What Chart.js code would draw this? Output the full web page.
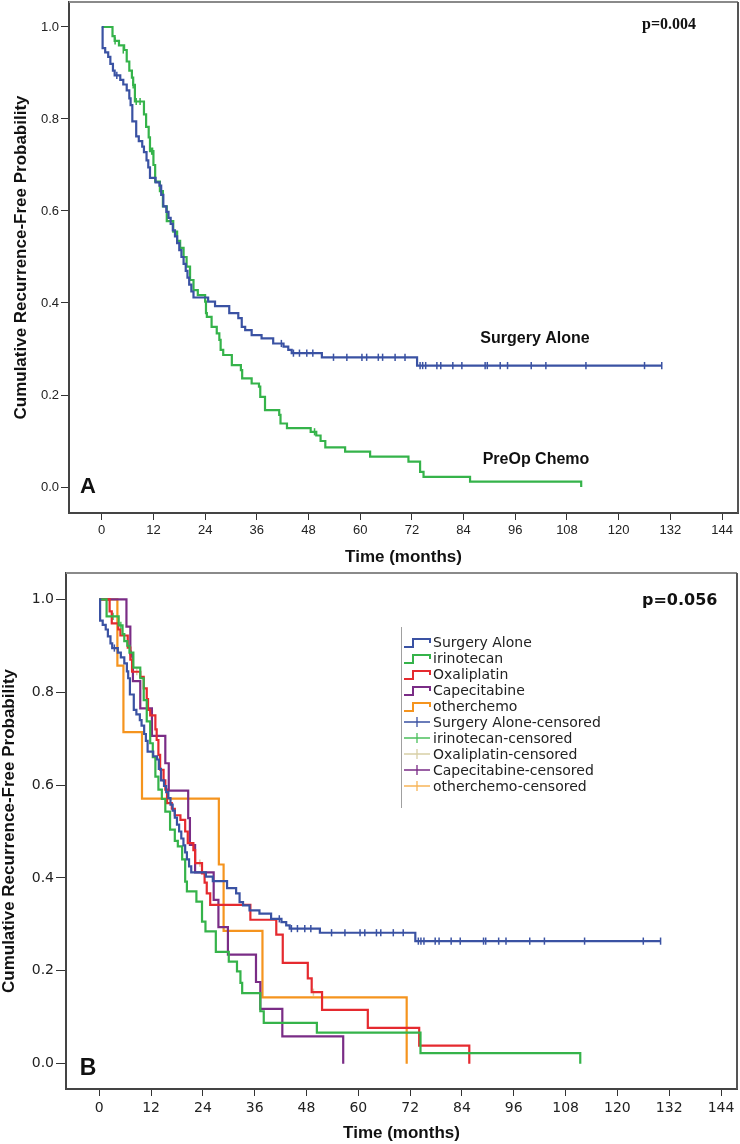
<!DOCTYPE html>
<html><head><meta charset="utf-8">
<script src="https://cdn.jsdelivr.net/npm/chart.js@4.4.1/dist/chart.umd.min.js"></script>
<style>
html,body{margin:0;padding:0;background:#fff;}
#wrap{position:relative;width:740px;height:1144px;overflow:hidden;}
.pane{position:absolute;left:0;width:740px;}
#pa{top:0;height:566px;}
#pb{top:566px;height:578px;}
</style></head><body>
<div id="wrap">
<div class="pane" id="pa"><canvas id="ca"></canvas></div>
<div class="pane" id="pb"><canvas id="cb"></canvas></div>
</div>
<script>
// ---------- tick labels ----------
const xTickValues = [0, 12, 24, 36, 48, 60, 72, 84, 96, 108, 120, 132, 144];
const yTickValues = [0.0, 0.2, 0.4, 0.6, 0.8, 1.0];

// ---------- Surgery Alone (panels A and B) ----------
const surgeryTimes = [0, 0.2, 0.8, 1.5, 2.0, 2.6, 3.0, 4.3, 5.0, 5.8, 6.4, 6.7, 7.1, 8.0, 8.6, 9.4, 9.8, 10.4, 10.8, 11.2, 12.5, 13.4, 13.8, 14.3, 15.0, 15.5, 16.0, 16.5, 17.0, 17.5, 18.0, 18.5, 19.0, 19.5, 19.9, 20.3, 20.8, 21.3, 24.7, 26.3, 29.6, 31.7, 32.5, 33.3, 34.8, 37.1, 39.8, 42.2, 43.3, 44.1, 51.1, 73.2, 130.0];
const surgerySurv  = [1.0, 0.954, 0.945, 0.935, 0.92, 0.905, 0.895, 0.885, 0.875, 0.862, 0.845, 0.83, 0.795, 0.762, 0.752, 0.74, 0.728, 0.71, 0.695, 0.672, 0.662, 0.655, 0.635, 0.61, 0.598, 0.585, 0.572, 0.558, 0.545, 0.53, 0.515, 0.50, 0.485, 0.47, 0.455, 0.44, 0.425, 0.412, 0.403, 0.393, 0.378, 0.367, 0.348, 0.341, 0.330, 0.323, 0.312, 0.305, 0.298, 0.291, 0.282, 0.264, 0.264];
const surgeryCensTimes = [3.5, 41.7, 44.5, 45.9, 47.6, 49.0, 53.8, 56.9, 60.4, 61.5, 64.2, 65.2, 68.1, 70.4, 73.9, 74.5, 75.2, 77.8, 78.7, 81.5, 83.6, 89.0, 89.5, 92.5, 94.2, 99.7, 103.1, 112.4, 126.0, 130.0];
const surgeryCensSurv  = [0.895, 0.312, 0.291, 0.291, 0.291, 0.291, 0.282, 0.282, 0.282, 0.282, 0.282, 0.282, 0.282, 0.282, 0.264, 0.264, 0.264, 0.264, 0.264, 0.264, 0.264, 0.264, 0.264, 0.264, 0.264, 0.264, 0.264, 0.264, 0.264, 0.264];

// ---------- PreOp Chemo (panel A) ----------
const preopTimes = [0, 2.5, 3.0, 4.0, 5.2, 5.8, 6.4, 7.0, 7.3, 7.7, 9.8, 10.3, 10.9, 11.2, 12.0, 12.4, 13.5, 14.2, 15.1, 16.6, 17.5, 18.2, 19.0, 19.7, 20.5, 21.3, 22.3, 24.0, 24.2, 24.4, 25.5, 26.7, 27.3, 27.6, 28.2, 30.2, 32.3, 32.6, 34.8, 36.5, 36.8, 37.9, 41.2, 41.5, 43.0, 48.5, 49.8, 50.8, 51.9, 56.5, 62.3, 71.2, 73.9, 74.7, 85.5, 111.3];
const preopSurv  = [1.0, 0.98, 0.97, 0.96, 0.95, 0.925, 0.905, 0.89, 0.874, 0.838, 0.81, 0.783, 0.76, 0.73, 0.70, 0.664, 0.643, 0.61, 0.578, 0.555, 0.535, 0.52, 0.50, 0.479, 0.45, 0.428, 0.417, 0.403, 0.378, 0.37, 0.348, 0.334, 0.32, 0.298, 0.287, 0.265, 0.254, 0.236, 0.225, 0.218, 0.196, 0.167, 0.157, 0.138, 0.128, 0.12, 0.112, 0.10, 0.086, 0.077, 0.066, 0.055, 0.033, 0.022, 0.0115, 0.0];
const preopCensTimes = [3.1, 5.0, 7.3, 8.0, 8.9, 11.6, 11.8, 49.4];
const preopCensSurv  = [0.97, 0.95, 0.874, 0.838, 0.838, 0.73, 0.73, 0.12];

// ---------- Panel B chemo groups ----------
const irinoTimes = [0, 1.7, 4.5, 5.4, 5.8, 6.5, 7.0, 7.9, 9.5, 10.3, 11.0, 11.8, 12.4, 13.0, 13.7, 14.5, 15.3, 16.4, 17.5, 18.2, 19.2, 19.9, 20.3, 22.5, 23.8, 24.6, 27.0, 30.0, 31.9, 32.7, 33.1, 37.3, 38.1, 50.4, 74.4, 111.4];
const irinoSurv  = [1.0, 0.963, 0.944, 0.925, 0.91, 0.90, 0.885, 0.853, 0.83, 0.783, 0.737, 0.69, 0.66, 0.618, 0.59, 0.57, 0.543, 0.504, 0.48, 0.468, 0.44, 0.392, 0.371, 0.349, 0.306, 0.285, 0.241, 0.22, 0.199, 0.174, 0.152, 0.113, 0.088, 0.067, 0.023, 0.0];
const irinoCensTimes = [3.2, 5.0];
const irinoCensSurv  = [0.963, 0.944];

const oxaliTimes = [0, 2.4, 2.9, 4.4, 4.9, 6.6, 7.2, 7.6, 9.5, 10.3, 11.0, 11.3, 11.8, 13.0, 13.3, 13.7, 14.1, 14.9, 15.3, 15.7, 16.8, 17.5, 18.8, 19.9, 20.5, 21.8, 22.2, 23.8, 24.4, 24.9, 25.7, 35.0, 41.0, 42.5, 48.3, 49.2, 51.6, 62.2, 74.1, 85.7];
const oxaliSurv  = [1.0, 0.974, 0.948, 0.935, 0.922, 0.896, 0.87, 0.844, 0.833, 0.808, 0.785, 0.762, 0.75, 0.72, 0.697, 0.665, 0.633, 0.61, 0.59, 0.561, 0.549, 0.535, 0.525, 0.50, 0.475, 0.46, 0.432, 0.41, 0.39, 0.367, 0.342, 0.31, 0.278, 0.217, 0.184, 0.154, 0.116, 0.077, 0.039, 0.0];
const oxaliCensTimes = [8.7, 23.3, 49.6];
const oxaliCensSurv  = [0.844, 0.432, 0.154];

const capeTimes = [0, 6.3, 7.2, 7.8, 9.5, 12.2, 15.3, 16.1, 20.6, 21.0, 22.2, 26.5, 27.6, 29.8, 36.3, 37.3, 42.4, 56.5];
const capeSurv  = [1.0, 0.941, 0.882, 0.824, 0.765, 0.706, 0.647, 0.588, 0.529, 0.471, 0.412, 0.353, 0.294, 0.235, 0.176, 0.118, 0.059, 0.0];
const capeCensTimes = [7.4];
const capeCensSurv  = [0.882];

const otherTimes = [0, 4.2, 5.6, 9.9, 27.7, 28.8, 37.8, 71.2];
const otherSurv  = [1.0, 0.857, 0.714, 0.571, 0.429, 0.286, 0.143, 0.0];

// ---------- labels ----------
const panelAGroups = ['Surgery Alone', 'PreOp Chemo'];
const legendLabels = ['Surgery Alone', 'irinotecan', 'Oxaliplatin', 'Capecitabine', 'otherchemo',
  'Surgery Alone-censored', 'irinotecan-censored', 'Oxaliplatin-censored', 'Capecitabine-censored', 'otherchemo-censored'];

// ---------- styling ----------
const C = { blue:'#3a52a3', green:'#35b34a', red:'#e52a2f', purple:'#7a2c86', orange:'#f5941e', tan:'#d8cfa6', greenLt:'#4cc05e', orangeLt:'#f7b559' };
const legendColors = [C.blue, C.green, C.red, C.purple, C.orange, C.blue, C.greenLt, C.tan, C.purple, C.orangeLt];

const pts = (ts, ss) => ts.map((t, i) => ({ x: t, y: ss[i] }));
const stepSet = (label, ts, ss, color) => ({
  label, data: pts(ts, ss), showLine: true, stepped: 'before', borderColor: color,
  backgroundColor: color, borderWidth: 2.2, pointRadius: 0, fill: false
});
const censSet = (label, ts, ss, color) => ({
  label, data: pts(ts, ss), showLine: false, pointStyle: 'line', rotation: 90,
  pointRadius: 3.6, borderColor: color, backgroundColor: color, pointBorderWidth: 1.5
});

const framePlugin = {
  id: 'frame',
  afterDatasetsDraw(chart, args, o) {
    const { ctx, chartArea: { left, top, right, bottom } } = chart;
    ctx.save();
    ctx.strokeStyle = o.topColor; ctx.lineWidth = 2;
    ctx.beginPath(); ctx.moveTo(left, top); ctx.lineTo(right, top); ctx.stroke();
    ctx.strokeStyle = o.rightColor;
    ctx.beginPath(); ctx.moveTo(right, top); ctx.lineTo(right, bottom); ctx.stroke();
    ctx.restore();
  }
};
const notesPlugin = {
  id: 'notes',
  afterDraw(chart, args, o) {
    const ctx = chart.ctx;
    ctx.save();
    (o.items || []).forEach(n => {
      ctx.font = n.font; ctx.fillStyle = n.color || '#111';
      ctx.textAlign = n.align || 'left'; ctx.textBaseline = n.baseline || 'alphabetic';
      ctx.fillText(n.text, n.x, n.y);
    });
    if (o.legend) {
      const L = o.legend;
      ctx.strokeStyle = '#a0a0a0'; ctx.lineWidth = 1;
      ctx.beginPath(); ctx.moveTo(L.x - 2.5, L.lineTop); ctx.lineTo(L.x - 2.5, L.lineBottom); ctx.stroke();
      L.labels.forEach((lab, i) => {
        const yc = L.y + i * L.dy;
        const col = L.colors[i];
        ctx.strokeStyle = col;
        if (i < 5) {
          ctx.lineWidth = 2;
          ctx.beginPath();
          ctx.moveTo(L.x, yc + 5); ctx.lineTo(L.x + 9, yc + 5); ctx.lineTo(L.x + 9, yc - 3);
          ctx.lineTo(L.x + 26, yc - 3); ctx.lineTo(L.x + 26, yc + 1);
          ctx.stroke();
        } else {
          ctx.lineWidth = 1.3;
          ctx.beginPath();
          ctx.moveTo(L.x, yc); ctx.lineTo(L.x + 26, yc);
          ctx.moveTo(L.x + 13, yc - 5); ctx.lineTo(L.x + 13, yc + 5);
          ctx.stroke();
        }
        ctx.font = L.font; ctx.fillStyle = '#222'; ctx.textAlign = 'left'; ctx.textBaseline = 'middle';
        ctx.fillText(lab, L.x + 29, yc + 1);
      });
    }
    ctx.restore();
  }
};

function makeChart(el, p) {
  return new Chart(el, {
    type: 'scatter',
    data: { datasets: p.datasets },
    plugins: [framePlugin, notesPlugin],
    options: {
      responsive: true, maintainAspectRatio: false, animation: false, events: [],
      layout: { autoPadding: false, padding: { top: p.padTop, right: p.padRight, left: 0, bottom: 0 } },
      plugins: {
        legend: { display: false }, tooltip: { enabled: false },
        frame: { topColor: '#8a8a8a', rightColor: '#555' },
        notes: { items: p.notes, legend: p.legend }
      },
      scales: {
        x: {
          type: 'linear', min: p.xMin, max: p.xMax,
          afterBuildTicks: s => { s.ticks = xTickValues.map(v => ({ value: v })); },
          afterFit: s => { s.height = p.xAxisH; s.paddingLeft = 0; s.paddingRight = 0; },
          ticks: { font: p.tickFont, color: '#222', padding: p.xTickPad, maxRotation: 0, autoSkip: false, callback: v => String(v) },
          grid: { display: true, drawOnChartArea: false, drawTicks: true, tickLength: 7, color: '#333', lineWidth: 1 },
          border: { display: true, color: '#444', width: 2 },
          title: { display: true, text: 'Time (months)', color: '#111',
            font: { family: 'Liberation Sans', size: 17, weight: 'bold', lineHeight: 1 },
            padding: { top: 0, bottom: p.xTitlePad } }
        },
        y: {
          type: 'linear', min: p.yMin, max: p.yMax,
          afterBuildTicks: s => { s.ticks = yTickValues.map(v => ({ value: v })); },
          afterFit: s => { s.width = p.yAxisW; s.paddingTop = 0; s.paddingBottom = 0; },
          ticks: { font: p.tickFont, color: '#222', padding: 2, callback: v => Number(v).toFixed(1) },
          grid: { display: true, drawOnChartArea: false, drawTicks: true, tickLength: p.yTickLen, color: '#333', lineWidth: 1 },
          border: { display: true, color: '#444', width: 2 },
          title: { display: true, text: 'Cumulative Recurrence-Free Probability', color: '#111',
            font: { family: 'Liberation Sans', size: 17, weight: 'bold', lineHeight: 1 },
            padding: { top: p.yTitlePad, bottom: 0 } }
        }
      }
    }
  });
}

// Panel A
makeChart(document.getElementById('ca'), {
  datasets: [
    stepSet(panelAGroups[0], surgeryTimes, surgerySurv, C.blue),
    stepSet(panelAGroups[1], preopTimes, preopSurv, C.green),
    censSet(panelAGroups[0] + '-censored', surgeryCensTimes, surgeryCensSurv, C.blue),
    censSet(panelAGroups[1] + '-censored', preopCensTimes, preopCensSurv, C.green)
  ],
  xMin: -7.6, xMax: 147.7, yMin: -0.0565, yMax: 1.0543,
  padTop: 2, padRight: 2, yAxisW: 69, xAxisH: 53, xTickPad: 3, yTickLen: 8,
  xTitlePad: 0.5, yTitlePad: 12.5,
  tickFont: { family: 'Liberation Sans', size: 13 },
  notes: [
    { text: 'p=0.004', x: 642, y: 29, font: 'bold 16px "Liberation Serif"' },
    { text: 'Surgery Alone', x: 535, y: 339, font: 'bold 16px "Liberation Sans"', align: 'center', baseline: 'middle' },
    { text: 'PreOp Chemo', x: 536, y: 460, font: 'bold 16px "Liberation Sans"', align: 'center', baseline: 'middle' },
    { text: 'A', x: 88, y: 493, font: 'bold 22px "Liberation Sans"', align: 'center' }
  ]
});

// Panel B
makeChart(document.getElementById('cb'), {
  datasets: [
    stepSet(legendLabels[0], surgeryTimes, surgerySurv, C.blue),
    stepSet(legendLabels[1], irinoTimes, irinoSurv, C.green),
    stepSet(legendLabels[2], oxaliTimes, oxaliSurv, C.red),
    stepSet(legendLabels[3], capeTimes, capeSurv, C.purple),
    stepSet(legendLabels[4], otherTimes, otherSurv, C.orange),
    censSet(legendLabels[5], surgeryCensTimes, surgeryCensSurv, C.blue),
    censSet(legendLabels[6], irinoCensTimes, irinoCensSurv, C.greenLt),
    censSet(legendLabels[7], oxaliCensTimes, oxaliCensSurv, C.tan),
    censSet(legendLabels[8], capeCensTimes, capeCensSurv, C.purple)
  ],
  xMin: -7.7, xMax: 147.7, yMin: -0.0544, yMax: 1.0566,
  padTop: 7, padRight: 3, yAxisW: 66, xAxisH: 55, xTickPad: 4, yTickLen: 10,
  xTitlePad: 2.5, yTitlePad: 0.5,
  tickFont: { family: 'DejaVu Sans', size: 14 },
  notes: [
    { text: 'p=0.056', x: 642, y: 39, font: 'bold 16px "DejaVu Sans"' },
    { text: 'B', x: 88, y: 509, font: 'bold 23px "Liberation Sans"', align: 'center' }
  ],
  legend: { x: 404, y: 76, dy: 16, lineTop: 61, lineBottom: 242, font: '14px "DejaVu Sans"', labels: legendLabels, colors: legendColors }
});
</script>
</body></html>
